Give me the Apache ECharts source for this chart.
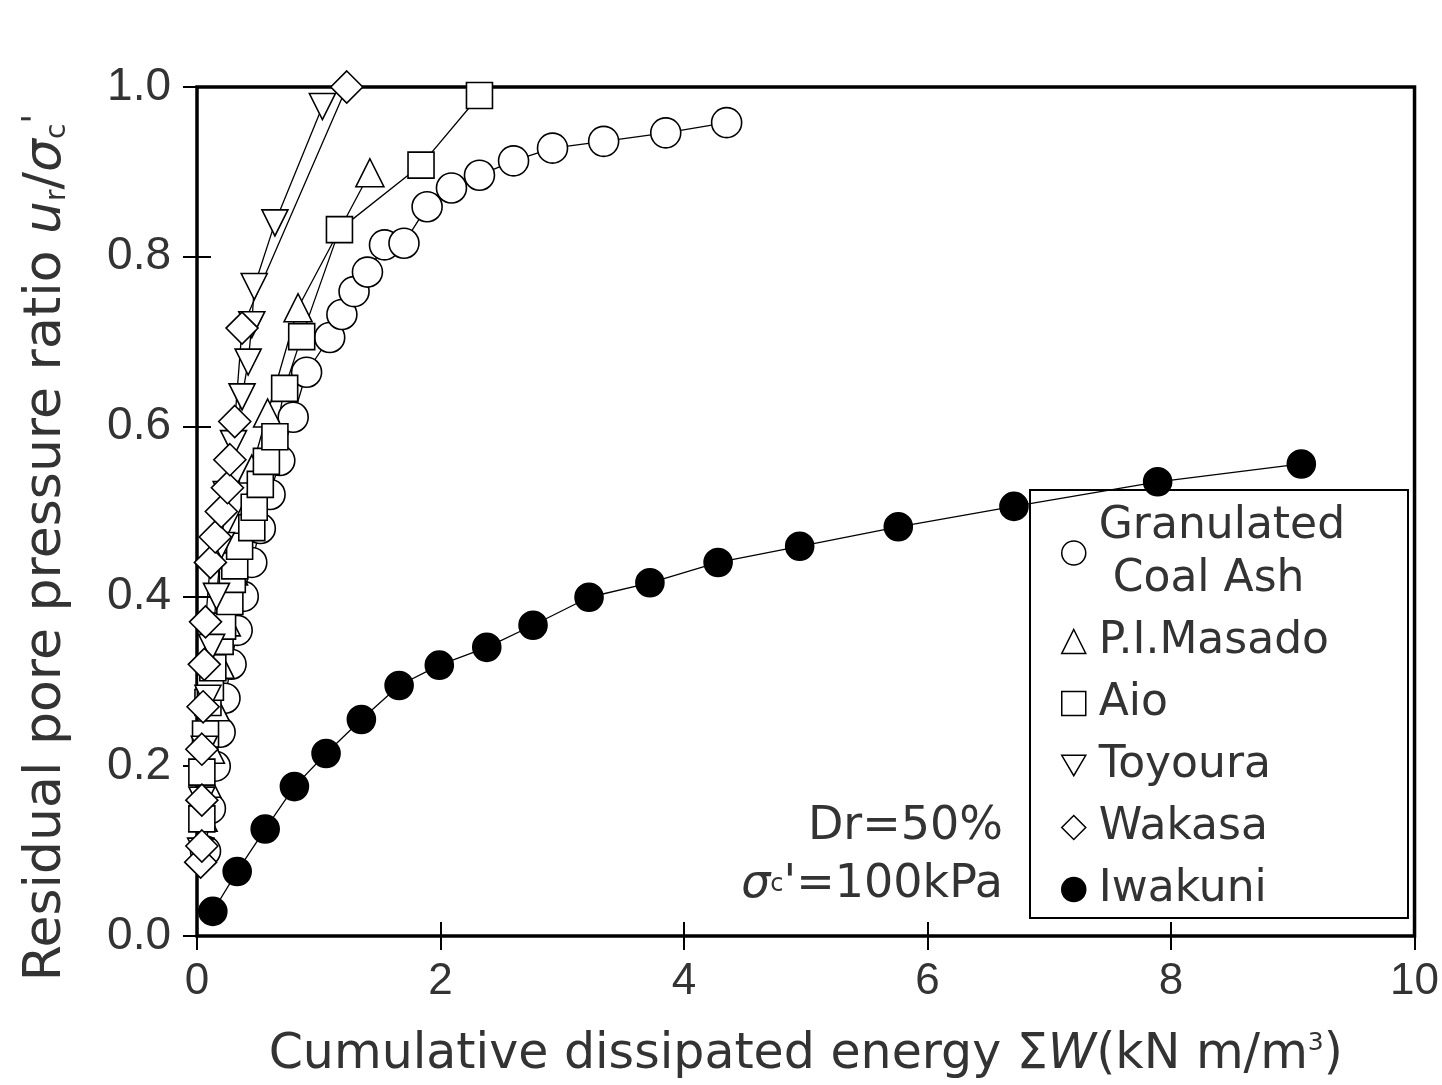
<!DOCTYPE html>
<html>
<head>
<meta charset="utf-8">
<script src="https://cdn.jsdelivr.net/npm/echarts@6/dist/echarts.min.js"></script>
<style>
  html, body { margin: 0; padding: 0; background: #fff; }
  #chart { width: 1442px; height: 1085px; }
</style>
</head>
<body>
<div id="chart"></div>
<script>
// 数据：[ΣW, ur/σc']
const seriesNames = ['Granulated Coal Ash', 'P.I.Masado', 'Aio', 'Toyoura', 'Wakasa', 'Iwakuni'];

const coalAsh = [[0.07,0.10],[0.11,0.15],[0.15,0.20],[0.19,0.24],[0.23,0.28],[0.28,0.32],[0.33,0.36],[0.38,0.40],
  [0.45,0.44],[0.52,0.48],[0.60,0.52],[0.68,0.56],[0.79,0.611],[0.90,0.664],[1.09,0.705],[1.19,0.732],
  [1.29,0.759],[1.40,0.782],[1.54,0.814],[1.70,0.816],[1.89,0.859],[2.09,0.881],[2.32,0.896],[2.60,0.913],
  [2.92,0.928],[3.34,0.936],[3.85,0.946],[4.35,0.958]];
const masado = [[0.05,0.14],[0.08,0.18],[0.11,0.22],[0.15,0.27],[0.19,0.32],[0.24,0.37],[0.30,0.43],
  [0.37,0.49],[0.45,0.55],[0.58,0.616],[0.83,0.74],[1.42,0.899]];
const aio = [[0.04,0.138],[0.04,0.193],[0.07,0.238],[0.09,0.275],[0.11,0.293],[0.13,0.316],[0.19,0.347],
  [0.21,0.365],[0.27,0.394],[0.29,0.42],[0.31,0.436],[0.35,0.459],[0.45,0.481],[0.47,0.505],[0.52,0.532],
  [0.57,0.559],[0.64,0.588],[0.72,0.645],[0.86,0.706],[1.17,0.832],[1.84,0.908],[2.32,0.99]];
const toyoura = [[0.03,0.10],[0.04,0.16],[0.06,0.22],[0.09,0.28],[0.12,0.34],[0.16,0.40],[0.20,0.46],
  [0.24,0.52],[0.30,0.58],[0.37,0.635],[0.42,0.676],[0.45,0.72],[0.47,0.765],[0.64,0.84],[1.03,0.977]];
const wakasa = [[0.03,0.087],[0.04,0.106],[0.04,0.16],[0.04,0.22],[0.05,0.27],[0.06,0.32],[0.07,0.37],
  [0.11,0.44],[0.15,0.47],[0.20,0.50],[0.25,0.528],[0.27,0.561],[0.31,0.606],[0.37,0.716],[1.23,1.0]];
const iwakuni = [[0.13,0.029],[0.33,0.076],[0.56,0.126],[0.80,0.176],[1.06,0.215],[1.35,0.255],[1.66,0.295],
  [1.99,0.319],[2.38,0.34],[2.76,0.366],[3.22,0.399],[3.72,0.416],[4.28,0.44],[4.95,0.459],[5.76,0.482],
  [6.71,0.506],[7.89,0.535],[9.07,0.556]];

const xTicks = [0, 2, 4, 6, 8, 10];
const yTicks = [0.0, 0.2, 0.4, 0.6, 0.8, 1.0];

const downTri = 'path://M0,0 L20,0 L10,17 Z';
const fontS = "'Liberation Sans', Arial, sans-serif";
const fontW = "'DejaVu Sans', 'Liberation Sans', sans-serif";
const txt = '#333';

const makeSeries = (name, data, symbol, size, filled) => ({
  name: name,
  type: 'line',
  data: data,
  symbol: symbol,
  symbolSize: size,
  showSymbol: true,
  clip: false,
  lineStyle: { color: '#000', width: 1.3 },
  itemStyle: { color: filled ? '#000' : '#fff', borderColor: '#000', borderWidth: 1.6 },
  z: 3
});

const tick = { inside: true, length: 14, lineStyle: { color: '#000', width: 2 } };

const myChart = echarts.init(document.getElementById('chart'));

myChart.setOption({
  animation: false,
  backgroundColor: '#fff',
  grid: { left: 197, top: 87, width: 1221, height: 850, show: true, borderColor: '#000', borderWidth: 3.5, backgroundColor: 'transparent' },
  xAxis: [
    {
      type: 'value', min: xTicks[0], max: xTicks[xTicks.length - 1], interval: 2,
      axisLine: { show: false }, splitLine: { show: false }, axisTick: tick,
      axisLabel: { margin: 24, fontSize: 44, color: txt, fontFamily: fontS },
      name: 'Cumulative dissipated energy Σ{i|W}(kN m/m{sup|3})',
      nameLocation: 'middle', nameGap: 95,
      nameTextStyle: {
        fontSize: 49, color: txt, fontFamily: fontW,
        rich: {
          i: { fontSize: 49, fontStyle: 'italic', fontFamily: fontW, color: txt },
          sup: { fontSize: 25, verticalAlign: 'top', padding: [0, 0, 20, 0], fontFamily: fontW, color: txt }
        }
      }
    },
    {
      type: 'value', position: 'top', min: 0, max: 10, interval: 2,
      axisLine: { show: false }, splitLine: { show: false }, axisLabel: { show: false }, axisTick: tick
    }
  ],
  yAxis: [
    {
      type: 'value', min: yTicks[0], max: yTicks[yTicks.length - 1], interval: 0.2,
      axisLine: { show: false }, splitLine: { show: false }, axisTick: tick,
      axisLabel: { margin: 26, fontSize: 46, color: txt, fontFamily: fontS, formatter: v => v.toFixed(1) },
      name: 'Residual pore pressure ratio {i|u}{sub|r}/{i|σ}{sub|c}{sup|\'}',
      nameLocation: 'middle', nameGap: 125, nameRotate: 90,
      nameTextStyle: {
        fontSize: 52, color: txt, fontFamily: fontW, padding: [0, 72, 0, 0],
        rich: {
          i: { fontSize: 52, fontStyle: 'italic', fontFamily: fontW, color: txt },
          sub: { fontSize: 28, verticalAlign: 'bottom', fontFamily: fontW, color: txt },
          sup: { fontSize: 36, verticalAlign: 'top', fontFamily: fontW, color: txt }
        }
      }
    },
    {
      type: 'value', position: 'right', min: 0, max: 1, interval: 0.2,
      axisLine: { show: false }, splitLine: { show: false }, axisLabel: { show: false }, axisTick: tick
    }
  ],
  legend: {
    orient: 'vertical', left: 1056, top: 495,
    itemGap: 9, itemWidth: 24, itemHeight: 24,
    textStyle: { fontSize: 44, lineHeight: 53, color: txt, fontFamily: fontW, padding: [0, 0, 0, 8] },
    formatter: name => name === 'Granulated Coal Ash' ? 'Granulated\n Coal Ash' : name,
    data: [
      { name: seriesNames[0], icon: 'circle', itemStyle: { color: '#fff', borderColor: '#000', borderWidth: 1.5 } },
      { name: seriesNames[1], icon: 'triangle', itemStyle: { color: '#fff', borderColor: '#000', borderWidth: 1.5 } },
      { name: seriesNames[2], icon: 'rect', itemStyle: { color: '#fff', borderColor: '#000', borderWidth: 1.5 } },
      { name: seriesNames[3], icon: downTri, itemStyle: { color: '#fff', borderColor: '#000', borderWidth: 1.5 } },
      { name: seriesNames[4], icon: 'diamond', itemStyle: { color: '#fff', borderColor: '#000', borderWidth: 1.5 } },
      { name: seriesNames[5], icon: 'circle', itemStyle: { color: '#000', borderColor: '#000', borderWidth: 1.5 } }
    ],
    selectedMode: false
  },
  graphic: [
    { type: 'rect', z: 1, shape: { x: 1030, y: 490, width: 378, height: 428 },
      style: { fill: '#fff', stroke: '#000', lineWidth: 2 } },
    { type: 'text', z: 5, right: 1442 - 1003, top: 804,
      style: { text: 'Dr=50%', font: "46px 'DejaVu Sans', sans-serif", fill: txt, textAlign: 'right' } },
    { type: 'text', z: 5, right: 1442 - 1003, top: 862,
      style: {
        text: '{i|σ}{s|c}\'=100kPa', font: "46px 'DejaVu Sans', sans-serif", fill: txt, textAlign: 'right',
        rich: {
          i: { fontSize: 46, fontStyle: 'italic', fontFamily: fontW, fill: txt },
          s: { fontSize: 24, fontFamily: fontW, fill: txt }
        }
      } }
  ],
  series: [
    makeSeries(seriesNames[0], coalAsh, 'circle', 30, false),
    makeSeries(seriesNames[1], masado, 'triangle', 28, false),
    makeSeries(seriesNames[2], aio, 'rect', 26, false),
    makeSeries(seriesNames[3], toyoura, downTri, 26, false),
    makeSeries(seriesNames[4], wakasa, 'diamond', 32, false),
    makeSeries(seriesNames[5], iwakuni, 'circle', 28, true)
  ]
});
</script>
</body>
</html>
